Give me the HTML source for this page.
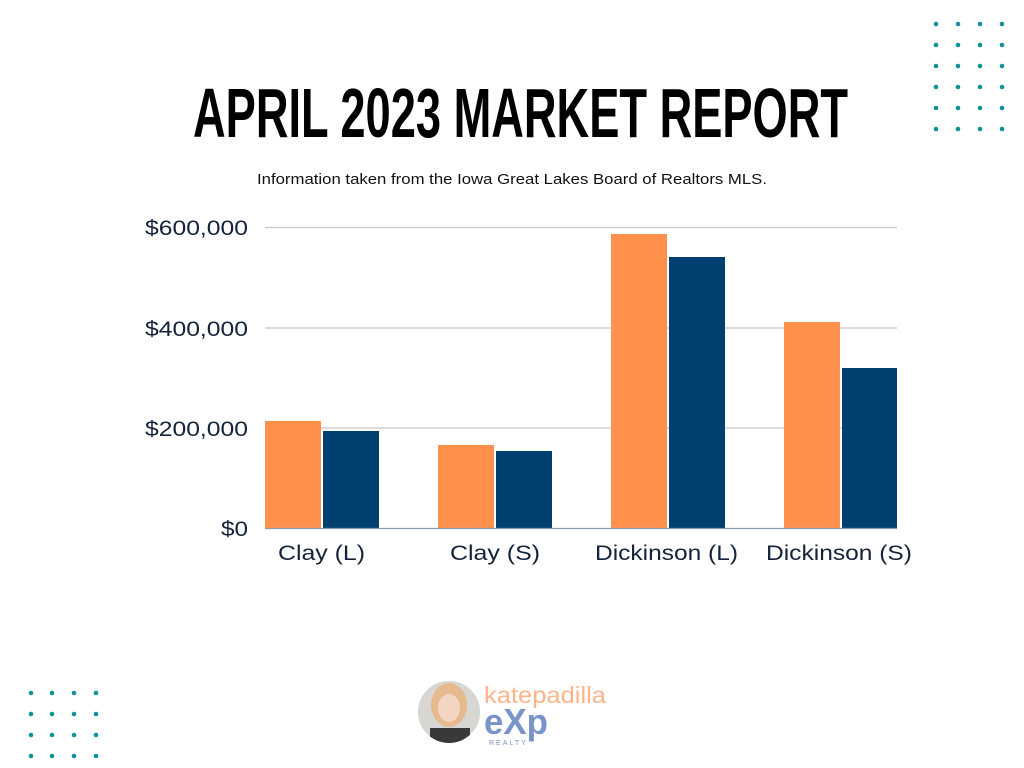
<!DOCTYPE html>
<html><head><meta charset="utf-8"><style>
html,body{margin:0;padding:0;background:#fff;}
svg{display:block}
</style></head><body>
<svg width="1024" height="768" xmlns="http://www.w3.org/2000/svg" font-family="Liberation Sans, sans-serif">
<rect width="1024" height="768" fill="#fff"/>
<g fill="#0e9296">
<circle cx="936" cy="24" r="2.3"/><circle cx="958" cy="24" r="2.3"/><circle cx="980" cy="24" r="2.3"/><circle cx="1002" cy="24" r="2.3"/>
<circle cx="936" cy="45" r="2.3"/><circle cx="958" cy="45" r="2.3"/><circle cx="980" cy="45" r="2.3"/><circle cx="1002" cy="45" r="2.3"/>
<circle cx="936" cy="66" r="2.3"/><circle cx="958" cy="66" r="2.3"/><circle cx="980" cy="66" r="2.3"/><circle cx="1002" cy="66" r="2.3"/>
<circle cx="936" cy="87" r="2.3"/><circle cx="958" cy="87" r="2.3"/><circle cx="980" cy="87" r="2.3"/><circle cx="1002" cy="87" r="2.3"/>
<circle cx="936" cy="108" r="2.3"/><circle cx="958" cy="108" r="2.3"/><circle cx="980" cy="108" r="2.3"/><circle cx="1002" cy="108" r="2.3"/>
<circle cx="936" cy="129" r="2.3"/><circle cx="958" cy="129" r="2.3"/><circle cx="980" cy="129" r="2.3"/><circle cx="1002" cy="129" r="2.3"/>
<circle cx="31" cy="693" r="2.3"/><circle cx="52" cy="693" r="2.3"/><circle cx="74" cy="693" r="2.3"/><circle cx="96" cy="693" r="2.3"/>
<circle cx="31" cy="714" r="2.3"/><circle cx="52" cy="714" r="2.3"/><circle cx="74" cy="714" r="2.3"/><circle cx="96" cy="714" r="2.3"/>
<circle cx="31" cy="735" r="2.3"/><circle cx="52" cy="735" r="2.3"/><circle cx="74" cy="735" r="2.3"/><circle cx="96" cy="735" r="2.3"/>
<circle cx="31" cy="756" r="2.3"/><circle cx="52" cy="756" r="2.3"/><circle cx="74" cy="756" r="2.3"/><circle cx="96" cy="756" r="2.3"/>
</g>
<text x="193" y="137" font-size="70" font-weight="bold" fill="#000" textLength="655" lengthAdjust="spacingAndGlyphs">APRIL 2023 MARKET REPORT</text>
<text x="257" y="184" font-size="14.5" fill="#111" textLength="510" lengthAdjust="spacingAndGlyphs">Information taken from the Iowa Great Lakes Board of Realtors MLS.</text>
<g stroke="#c8c8cc" stroke-width="1.2">
<line x1="265" y1="227.5" x2="897" y2="227.5"/>
<line x1="265" y1="328" x2="897" y2="328"/>
<line x1="265" y1="428" x2="897" y2="428"/>
</g>
<g font-size="21" fill="#12233a">
<text x="145" y="235" textLength="103" lengthAdjust="spacingAndGlyphs">$600,000</text>
<text x="145" y="336" textLength="103" lengthAdjust="spacingAndGlyphs">$400,000</text>
<text x="145" y="436" textLength="103" lengthAdjust="spacingAndGlyphs">$200,000</text>
<text x="221" y="536" textLength="27" lengthAdjust="spacingAndGlyphs">$0</text>
</g>
<g fill="#ff914d">
<rect x="265" y="421" width="56" height="107"/>
<rect x="438" y="445" width="56" height="83"/>
<rect x="611" y="234" width="56" height="294"/>
<rect x="784" y="322" width="56" height="206"/>
</g>
<g fill="#004071">
<rect x="323" y="431" width="56" height="97"/>
<rect x="496" y="451" width="56" height="77"/>
<rect x="669" y="257" width="56" height="271"/>
<rect x="842" y="368" width="55" height="160"/>
</g>
<line x1="265" y1="528.5" x2="897" y2="528.5" stroke="#8a9bb0" stroke-width="1.2"/>
<g font-size="21" fill="#12233a">
<text x="278" y="560" textLength="87" lengthAdjust="spacingAndGlyphs">Clay (L)</text>
<text x="450" y="560" textLength="90" lengthAdjust="spacingAndGlyphs">Clay (S)</text>
<text x="595" y="560" textLength="143" lengthAdjust="spacingAndGlyphs">Dickinson (L)</text>
<text x="766" y="560" textLength="146" lengthAdjust="spacingAndGlyphs">Dickinson (S)</text>
</g>
<defs><clipPath id="c"><circle cx="449" cy="712" r="31"/></clipPath></defs>
<circle cx="449" cy="712" r="31" fill="#c9c4c0"/>
<g clip-path="url(#c)">
<rect x="418" y="681" width="62" height="62" fill="#d8d6d3"/>
<ellipse cx="449" cy="705" rx="18" ry="22" fill="#e6b98f"/>
<ellipse cx="449" cy="708" rx="11" ry="14" fill="#f3d6c2"/>
<rect x="430" y="728" width="40" height="20" fill="#3b3838"/>
</g>
<text x="484" y="703" font-size="23" fill="#ffb38a" textLength="122" lengthAdjust="spacingAndGlyphs">katepadilla</text>
<text x="484" y="734" font-size="36" font-weight="bold" fill="#7a93c8" textLength="64" lengthAdjust="spacingAndGlyphs">eXp</text>
<text x="489" y="745" font-size="7" fill="#7a93c8" letter-spacing="2">REALTY</text>
</svg>
</body></html>
